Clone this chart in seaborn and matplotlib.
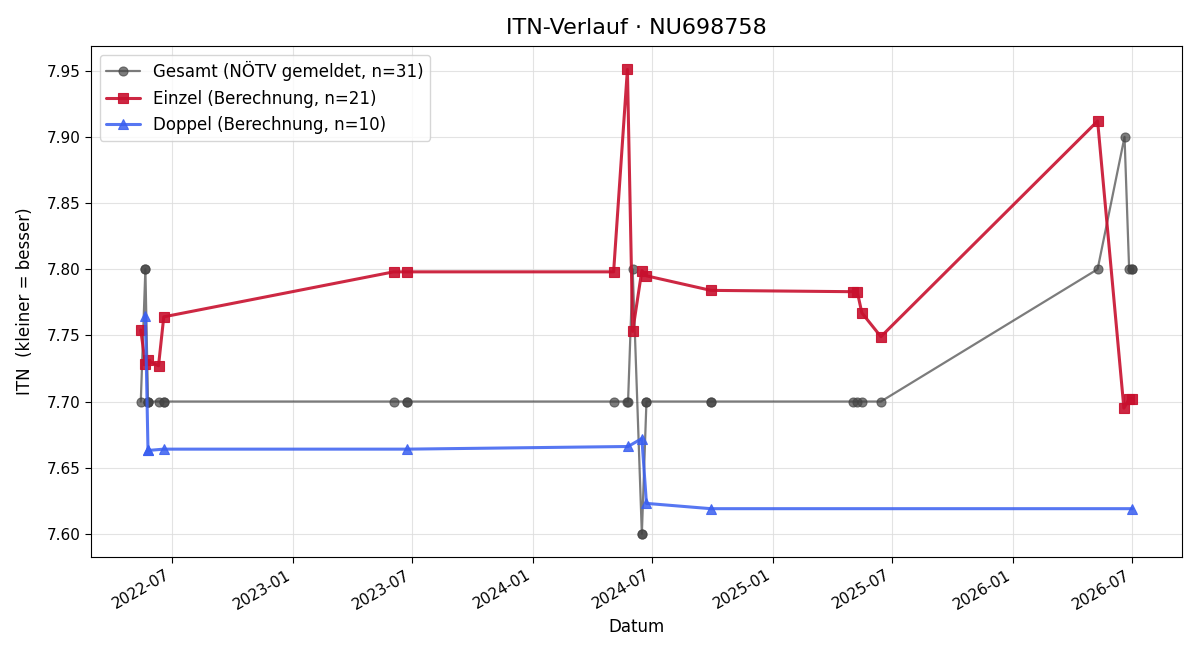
import matplotlib
matplotlib.use("Agg")
import matplotlib.pyplot as plt
import matplotlib.dates as mdates
import seaborn as sns
import pandas as pd

gesamt_dates = ["2022-05-14", "2022-05-21", "2022-05-21", "2022-05-25", "2022-05-25", "2022-05-25",
                "2022-06-10", "2022-06-18", "2022-06-18", "2023-06-03", "2023-06-24", "2023-06-24",
                "2024-05-03", "2024-05-24", "2024-05-25", "2024-06-01", "2024-06-15", "2024-06-15",
                "2024-06-22", "2024-06-22", "2024-09-28", "2024-09-28", "2025-05-02", "2025-05-09",
                "2025-05-16", "2025-06-14", "2026-05-10", "2026-06-20", "2026-06-27", "2026-07-02",
                "2026-07-02"]
gesamt_itn = [7.70, 7.80, 7.80, 7.70, 7.70, 7.70,
              7.70, 7.70, 7.70, 7.70, 7.70, 7.70,
              7.70, 7.70, 7.70, 7.80, 7.60, 7.60,
              7.70, 7.70, 7.70, 7.70, 7.70, 7.70,
              7.70, 7.70, 7.80, 7.90, 7.80, 7.80,
              7.80]

einzel_dates = ["2022-05-14", "2022-05-21", "2022-05-25", "2022-06-10", "2022-06-18",
                "2023-06-03", "2023-06-24", "2024-05-03", "2024-05-24", "2024-06-01",
                "2024-06-15", "2024-06-22", "2024-09-28", "2025-05-02", "2025-05-09",
                "2025-05-16", "2025-06-14", "2026-05-10", "2026-06-19", "2026-06-27",
                "2026-07-02"]
einzel_itn = [7.754, 7.728, 7.731, 7.727, 7.764,
              7.798, 7.798, 7.798, 7.951, 7.753,
              7.799, 7.795, 7.784, 7.783, 7.783,
              7.767, 7.749, 7.912, 7.695, 7.702,
              7.702]

doppel_dates = ["2022-05-21", "2022-05-25", "2022-05-25", "2022-06-18", "2023-06-24",
                "2024-05-25", "2024-06-15", "2024-06-22", "2024-09-28", "2026-07-02"]
doppel_itn = [7.765, 7.663, 7.663, 7.664, 7.664,
              7.666, 7.672, 7.623, 7.619, 7.619]

labels = ["Gesamt (NÖTV gemeldet, n=31)", "Einzel (Berechnung, n=21)", "Doppel (Berechnung, n=10)"]

sns.set_style("white")
plt.rcParams['font.family'] = ['DejaVu Sans']
plt.rcParams.update({"text.color": "black", "axes.labelcolor": "black",
                     "xtick.color": "black", "ytick.color": "black"})

fig, ax = plt.subplots(figsize=(12, 6.6), dpi=100)

df_g = pd.DataFrame({"Datum": pd.to_datetime(gesamt_dates), "ITN": gesamt_itn})
df_e = pd.DataFrame({"Datum": pd.to_datetime(einzel_dates), "ITN": einzel_itn})
df_d = pd.DataFrame({"Datum": pd.to_datetime(doppel_dates), "ITN": doppel_itn})

sns.lineplot(data=df_g, x="Datum", y="ITN", estimator=None, sort=False, ax=ax,
             color="#444444", alpha=0.7, linewidth=1.6, marker="o", markersize=6.5,
             markeredgewidth=0.8, markeredgecolor="#444444", label=labels[0])
sns.lineplot(data=df_e, x="Datum", y="ITN", estimator=None, sort=False, ax=ax,
             color="#c8102e", alpha=0.9, linewidth=2.2, marker="s", markersize=7,
             markeredgewidth=0.8, markeredgecolor="#c8102e", label=labels[1])
sns.lineplot(data=df_d, x="Datum", y="ITN", estimator=None, sort=False, ax=ax,
             color="#3a5ff0", alpha=0.85, linewidth=2.2, marker="^", markersize=7,
             markeredgewidth=0.8, markeredgecolor="#3a5ff0", label=labels[2])

ax.margins(x=0.05, y=0.05)
ax.grid(True, color="#dddddd", linewidth=0.8, alpha=0.8)
for s in ax.spines.values():
    s.set_visible(True)
    s.set_color("black")
    s.set_linewidth(0.8)

ax.xaxis.set_major_locator(mdates.MonthLocator(bymonth=[1, 7]))
ax.xaxis.set_major_formatter(mdates.DateFormatter("%Y-%m"))
ax.tick_params(axis="both", which="major", labelsize=11, length=4, direction="out",
               bottom=True, left=True, colors="black")
ax.yaxis.set_major_locator(plt.MultipleLocator(0.05))
ax.yaxis.set_major_formatter(plt.FormatStrFormatter("%.2f"))

ax.set_title("ITN-Verlauf · NU698758", fontsize=16, color="black", pad=9)
ax.set_xlabel("Datum", fontsize=12, color="black")
ax.set_ylabel("ITN  (kleiner = besser)", fontsize=12, color="black", labelpad=9)

leg = ax.legend(loc="upper left", fontsize=12, frameon=True)
for t in leg.get_texts():
    t.set_color("black")

fig.autofmt_xdate()
fig.subplots_adjust(left=0.076, right=0.985, top=0.930, bottom=0.156)
fig.savefig("out.png", dpi=100)
